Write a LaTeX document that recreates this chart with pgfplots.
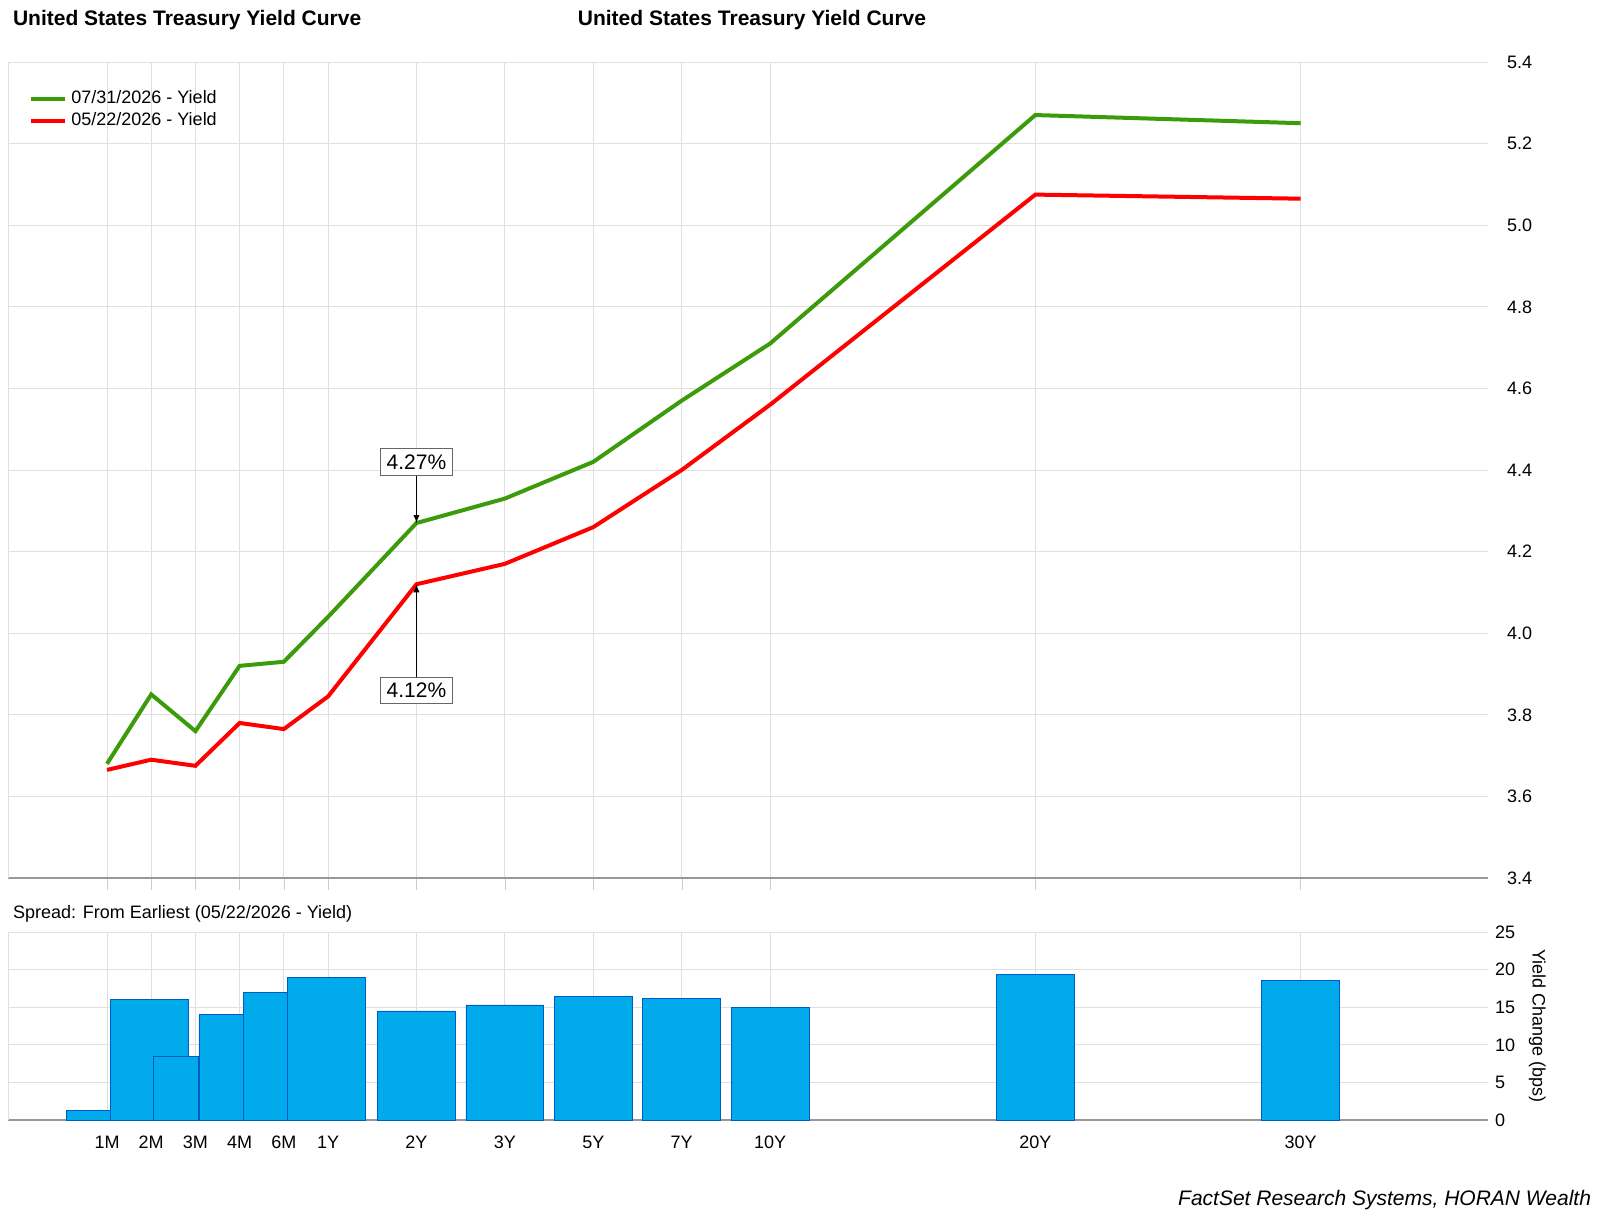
\documentclass[border=0pt]{standalone}
\usepackage{pgfplots}
\pgfplotsset{compat=1.18}
\usepackage{fontspec}
\setmainfont{Liberation Sans}
\begin{document}
\begin{tikzpicture}
\useasboundingbox (0,0) rectangle (800pt,-611pt);
\node[anchor=west,font=\bfseries\fontsize{10.5}{12}\selectfont] at (3pt,-10pt) {United States Treasury Yield Curve};
\node[anchor=center,font=\bfseries\fontsize{10.5}{12}\selectfont] at (376pt,-10pt) {United States Treasury Yield Curve};
\begin{axis}[name=main, at={(4pt,-31pt)}, anchor=north west, scale only axis,
  width=740pt, height=408pt, xmin=-1.12, xmax=15.62, ymin=3.4, ymax=5.4,
  xtick={0,0.5,1,1.5,2,2.5,3.5,4.5,5.5,6.5,7.5,10.5,13.5}, xticklabels={},
  ytick={3.4,3.6,...,5.4}, yticklabel pos=right,
  /pgf/number format/assume math mode=true,
  yticklabel style={/pgf/number format/.cd,fixed,fixed zerofill,precision=1},
  tick label style={font=\fontsize{9}{10}\selectfont},
  grid=major, grid style={gray!25, line width=0.5pt},
  axis x line*=bottom, axis y line*=right,
  x axis line style={gray!80,line width=0.7pt}, y axis line style={draw=none},
  xtick style={gray!40}, ytick style={draw=none},
  major tick length=6pt, tick align=outside,
  legend style={at={(0.01,0.975)},anchor=north west,draw=none,fill=none,font=\fontsize{9}{10}\selectfont, row sep=-1pt},
  legend cell align=left,
  clip=false]
\draw[gray!25] (axis cs:-1.12,3.4) -- (axis cs:-1.12,5.4) -- (axis cs:15.62,5.4);
\addplot[color={rgb,255:red,60;green,155;blue,10}, line width=2pt] coordinates {
(0,3.68)(0.5,3.85)(1,3.76)(1.5,3.92)(2,3.93)(2.5,4.04)(3.5,4.27)(4.5,4.33)(5.5,4.42)(6.5,4.57)(7.5,4.71)(10.5,5.27)(13.5,5.25)};
\addlegendentry{07/31/2026 - Yield}
\addplot[color=red, line width=2pt] coordinates {
(0,3.665)(0.5,3.69)(1,3.675)(1.5,3.78)(2,3.765)(2.5,3.845)(3.5,4.12)(4.5,4.17)(5.5,4.26)(6.5,4.40)(7.5,4.56)(10.5,5.075)(13.5,5.065)};
\addlegendentry{05/22/2026 - Yield}
\node[draw=gray!80!black,fill=white,inner sep=3pt,font=\fontsize{10.5}{12}\selectfont] (a) at (axis cs:3.5,4.42) {4.27\%};
\draw[-latex] (a.south) -- (axis cs:3.5,4.27);
\node[draw=gray!80!black,fill=white,inner sep=3pt,font=\fontsize{10.5}{12}\selectfont] (b) at (axis cs:3.5,3.86) {4.12\%};
\draw[-latex] (b.north) -- (axis cs:3.5,4.12);
\end{axis}
\node[anchor=west,font=\fontsize{9}{10}\selectfont] at (3pt,-457pt) {Spread: From Earliest (05/22/2026 - Yield)};
\begin{axis}[name=low, at={(4pt,-466pt)}, anchor=north west, scale only axis,
  width=740pt, height=94pt, xmin=-1.12, xmax=15.62, ymin=0, ymax=25,
  xtick={0,0.5,1,1.5,2,2.5,3.5,4.5,5.5,6.5,7.5,10.5,13.5},
  xticklabels={1M,2M,3M,4M,6M,1Y,2Y,3Y,5Y,7Y,10Y,20Y,30Y},
  ytick={0,5,...,25}, yticklabel pos=right,
  /pgf/number format/assume math mode=true,
  tick label style={font=\fontsize{9}{10}\selectfont},
  grid=major, grid style={gray!25, line width=0.5pt},
  axis x line*=bottom, axis y line*=right,
  x axis line style={gray!80,line width=0.7pt}, y axis line style={draw=none},
  xtick style={draw=none}, ytick style={draw=none},
  ylabel={Yield Change (bps)}, ylabel style={font=\fontsize{9}{10}\selectfont, rotate=180},
  ybar, clip=false]
\draw[gray!25] (axis cs:-1.12,0) -- (axis cs:-1.12,25) -- (axis cs:15.62,25);
\pgfplotsset{every axis plot/.append style={fill={rgb,255:red,0;green,170;blue,235}, draw={rgb,255:red,0;green,90;blue,200}, bar shift=0}}
\addplot[bar width=0.5] coordinates {(-0.21,1.3)};
\addplot[bar width=0.88] coordinates {(0.475,16)};
\addplot[bar width=0.5] coordinates {(0.78,8.5)(1.29,14)(1.79,17)};
\addplot[bar width=0.89] coordinates {(2.48,19)};
\addplot[bar width=0.88] coordinates {(3.5,14.5)(4.5,15.3)(5.5,16.4)(6.5,16.2)(7.5,15)(10.5,19.3)(13.5,18.6)};
\end{axis}
\node[anchor=east,font=\itshape\fontsize{10.5}{12}\selectfont] at (799pt,-600pt) {FactSet Research Systems, HORAN Wealth};
\end{tikzpicture}
\end{document}
